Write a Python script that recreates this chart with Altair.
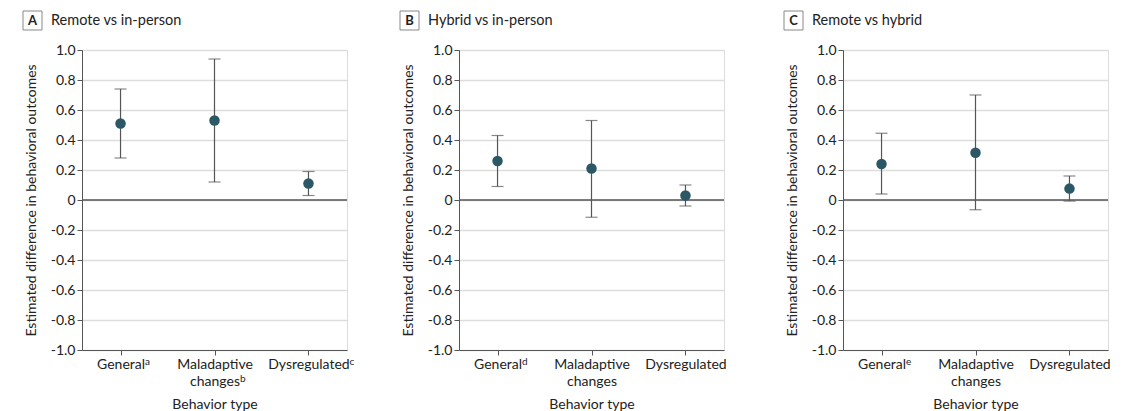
import altair as alt
import pandas as pd

FONT = "Lato, Noto Sans, Open Sans, sans-serif"

panel_letters = ["A", "B", "C"]
panel_titles = ["Remote vs in-person", "Hybrid vs in-person", "Remote vs hybrid"]

categories = ["General", "Maladaptive|changes", "Dysregulated"]
sup_A = ["a", "b", "c"]
sup_B = ["d", "", ""]
sup_C = ["e", "", ""]

est_A = [0.51, 0.53, 0.11]
lo_A = [0.28, 0.12, 0.03]
hi_A = [0.74, 0.94, 0.19]

est_B = [0.26, 0.21, 0.03]
lo_B = [0.09, -0.115, -0.04]
hi_B = [0.43, 0.53, 0.10]

est_C = [0.24, 0.315, 0.076]
lo_C = [0.04, -0.065, -0.007]
hi_C = [0.445, 0.70, 0.16]

y_ticks = [-1.0, -0.8, -0.6, -0.4, -0.2, 0, 0.2, 0.4, 0.6, 0.8, 1.0]

# superscript placement (style): offset from label centre and label line
sup_dx = [24.5, 25.5, 41.0]
sup_line = [0, 1, 0]

AX = "#555555"
PT = "#2c5866"
TXT = "#222222"
H = 300

yaxis = alt.Axis(
    title="Estimated difference in behavioral outcomes",
    values=y_ticks,
    labelExpr="datum.value == 0 ? '0' : (datum.value < 0 ? '-' + format(-datum.value, '.1f') : format(datum.value, '.1f'))",
    labelOverlap=False,
    grid=True,
    gridColor="#dddddd",
    gridWidth=1.5,
    domainColor=AX,
    tickColor=AX,
    tickSize=5,
    labelFontSize=14,
    labelColor=TXT,
    labelPadding=2,
    titleFontSize=14,
    titleFontWeight="normal",
    titleColor=TXT,
    titlePadding=12,
)
yscale = alt.Scale(domain=[-1, 1], nice=False)


def panel(letter, title, sups, est, lo, hi):
    df = pd.DataFrame({"label": categories, "sup": sups, "est": est, "lo": lo, "hi": hi})
    xaxis = alt.Axis(
        title="Behavior type",
        labelAngle=0,
        labelExpr="split(datum.label, '|')",
        grid=False,
        domainColor=AX,
        tickColor=AX,
        tickSize=5,
        labelFontSize=14,
        labelColor=TXT,
        labelPadding=2,
        labelLineHeight=17,
        titleFontSize=14,
        titleFontWeight="normal",
        titleColor=TXT,
        titlePadding=9,
    )
    xscale = alt.Scale(type="point", padding=0.41)

    def X():
        return alt.X("label:N", sort=categories, scale=xscale, axis=xaxis)

    def Y(f):
        return alt.Y(f, scale=yscale, axis=yaxis)

    base = alt.Chart(df)
    zero = alt.Chart(pd.DataFrame({"z": [0]})).mark_rule(color=AX, strokeWidth=1.4).encode(
        y=Y("z:Q")
    )
    bars = base.mark_rule(color="#555", strokeWidth=1.2).encode(x=X(), y=Y("lo:Q"), y2="hi:Q")
    cap_lo = base.mark_tick(color="#555", thickness=1.2, size=12, orient="horizontal").encode(
        x=X(), y=Y("lo:Q")
    )
    cap_hi = base.mark_tick(color="#555", thickness=1.2, size=12, orient="horizontal").encode(
        x=X(), y=Y("hi:Q")
    )
    pts = base.mark_circle(color=PT, opacity=1, size=110).encode(x=X(), y=Y("est:Q"))
    layers = [bars, zero, cap_lo, cap_hi, pts]
    for i, cat in enumerate(categories):
        if sups[i]:
            layers.append(
                base.transform_filter(alt.datum.label == cat)
                .mark_text(font=FONT, fontSize=10, color=TXT, align="left", baseline="top", dx=sup_dx[i])
                .encode(x=X(), y=alt.value(H + 7 + 17 * sup_line[i]), text="sup:N")
            )
    tdf = pd.DataFrame({"letter": [letter], "title": [title]})
    box = alt.Chart(tdf).mark_rect(fill="white", stroke="#888", strokeWidth=1).encode(
        x=alt.value(-59), x2=alt.value(-40), y=alt.value(-39), y2=alt.value(-20)
    )
    let = alt.Chart(tdf).mark_text(font=FONT, fontSize=13, fontWeight="bold", color=TXT, align="center", baseline="middle").encode(
        x=alt.value(-49.5), y=alt.value(-29.5), text="letter:N"
    )
    ttl = alt.Chart(tdf).mark_text(font=FONT, fontSize=14.5, color=TXT, align="left", baseline="middle").encode(
        x=alt.value(-31), y=alt.value(-29.5), text="title:N"
    )
    layers += [box, let, ttl]
    return alt.layer(*layers).properties(width=265, height=H)


pA = panel("A", panel_titles[0], sup_A, est_A, lo_A, hi_A)
pB = panel("B", panel_titles[1], sup_B, est_B, lo_B, hi_B)
pC = panel("C", panel_titles[2], sup_C, est_C, lo_C, hi_C)

chart = alt.hconcat(
    alt.hconcat(pA, pB, spacing=44),
    pC,
    spacing=56,
).configure_view(stroke=None).configure(font=FONT, padding={"left": 14, "top": 2, "right": 5, "bottom": 5})

chart.save("out.html", embed_options={"renderer": "svg", "actions": False})
